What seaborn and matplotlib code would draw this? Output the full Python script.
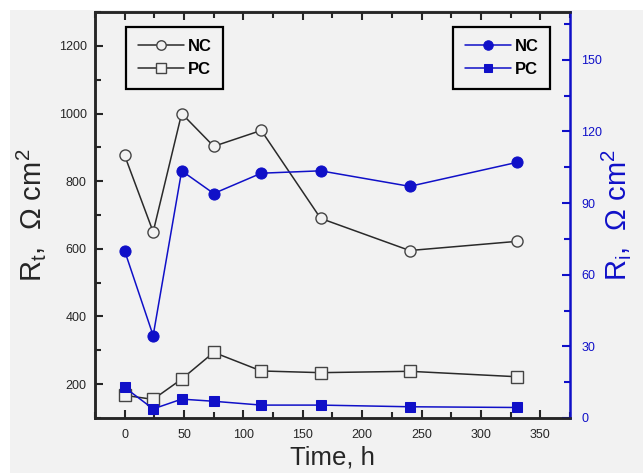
import numpy as np
import pandas as pd
import matplotlib
matplotlib.use("Agg")
import matplotlib.pyplot as plt
import matplotlib.patches as mpatches
import seaborn as sns
from matplotlib.ticker import MultipleLocator

# Data
time_h = [0, 24, 48, 75, 115, 165, 240, 330]
nc_rt = [876, 650, 1000, 903, 950, 690, 595, 622]   # open circles, left axis
pc_rt = [167, 155, 215, 294, 239, 234, 238, 222]    # open squares, left axis
nc_ri = [70, 34.5, 103.5, 94, 102.5, 103.5, 97, 107]  # filled circles, right axis
pc_ri = [12.8, 3.8, 7.9, 7.0, 5.4, 5.4, 4.7, 4.4]     # filled squares, right axis

bg = "#f2f2f2"
blue = "#1010c8"
dark = "#2a2a2a"

sns.set_style("ticks")
plt.rcParams["font.family"] = ["Liberation Sans", "DejaVu Sans"]
plt.rcParams["mathtext.default"] = "regular"

fig = plt.figure(figsize=(6.43, 4.73), dpi=100, facecolor=bg)
# white strips along top and left edge, like the scanned original
fig.patches.append(mpatches.Rectangle((0, 0.978), 1, 0.022, transform=fig.transFigure,
                                      facecolor="white", edgecolor="none", zorder=0))
fig.patches.append(mpatches.Rectangle((0, 0), 0.015, 1, transform=fig.transFigure,
                                      facecolor="white", edgecolor="none", zorder=0))

ax = fig.add_axes([0.1477, 0.1163, 0.7388, 0.8583])
ax.set_facecolor(bg)
ax2 = ax.twinx()

# Left axis series (black, open markers)
sns.lineplot(x=time_h, y=nc_rt, ax=ax, color=dark, linewidth=1.1,
             marker="o", markersize=8, markerfacecolor=bg, markeredgecolor="#444444",
             markeredgewidth=1.0, label="NC")
sns.lineplot(x=time_h, y=pc_rt, ax=ax, color=dark, linewidth=1.1,
             marker="s", markersize=8, markerfacecolor=bg, markeredgecolor="#444444",
             markeredgewidth=1.0, label="PC")

# Right axis series (blue, filled markers)
sns.lineplot(x=time_h, y=nc_ri, ax=ax2, color=blue, linewidth=1.1,
             marker="o", markersize=8, markerfacecolor=blue, markeredgecolor=blue,
             label="NC")
sns.lineplot(x=time_h, y=pc_ri, ax=ax2, color=blue, linewidth=1.1,
             marker="s", markersize=7, markerfacecolor=blue, markeredgecolor=blue,
             label="PC")

ax.set_xlim(-25, 375)
ax.set_ylim(100, 1300)
ax2.set_ylim(0, 170)

ax.xaxis.set_minor_locator(MultipleLocator(25))
ax.set_xticks([0, 50, 100, 150, 200, 250, 300, 350])
ax.yaxis.set_minor_locator(MultipleLocator(100))
ax.set_yticks([200, 400, 600, 800, 1000, 1200])
ax2.yaxis.set_minor_locator(MultipleLocator(15))
ax2.set_yticks([0, 30, 60, 90, 120, 150])

ax.tick_params(axis="both", which="both", direction="in", labelsize=9, width=1.5)
ax.tick_params(axis="x", which="both", top=True, pad=8)
ax.tick_params(axis="y", which="both", pad=6)
ax.tick_params(which="major", length=6)
ax.tick_params(which="minor", length=4)
ax2.tick_params(axis="y", which="both", direction="in", colors=blue,
                labelsize=9, width=1.5, pad=8)
ax2.tick_params(which="major", length=6)
ax2.tick_params(which="minor", length=4)

for s in ["left", "bottom", "top"]:
    ax.spines[s].set_linewidth(1.8)
    ax2.spines[s].set_linewidth(1.8)
ax.spines["right"].set_visible(False)
ax2.spines["right"].set_color(blue)
ax2.spines["right"].set_linewidth(1.8)

ax.set_xlabel("Time, h", fontsize=18.5, labelpad=3)
ax.set_ylabel("R$_t$,  Ω cm$^2$", fontsize=21, labelpad=8)
ax2.set_ylabel("R$_i$,  Ω cm$^2$", fontsize=21, color=blue, labelpad=-2)

leg_kw = dict(prop={"size": 12, "weight": "bold"}, frameon=True, fancybox=False,
              edgecolor="black", facecolor=bg, handlelength=2.8, borderpad=0.7,
              labelspacing=0.5, handletextpad=0.2, markerscale=0.85,
              borderaxespad=0, labelcolor="black")
leg1 = ax.legend(loc="upper left", bbox_to_anchor=(0.065, 0.963), **leg_kw)
leg1.get_frame().set_linewidth(1.6)
leg1.get_frame().set_alpha(1)
leg2 = ax2.legend(loc="upper right", bbox_to_anchor=(0.958, 0.963), **leg_kw)
leg2.get_frame().set_linewidth(1.6)
leg2.get_frame().set_alpha(1)

fig.savefig("out.png", dpi=100, facecolor=bg)
